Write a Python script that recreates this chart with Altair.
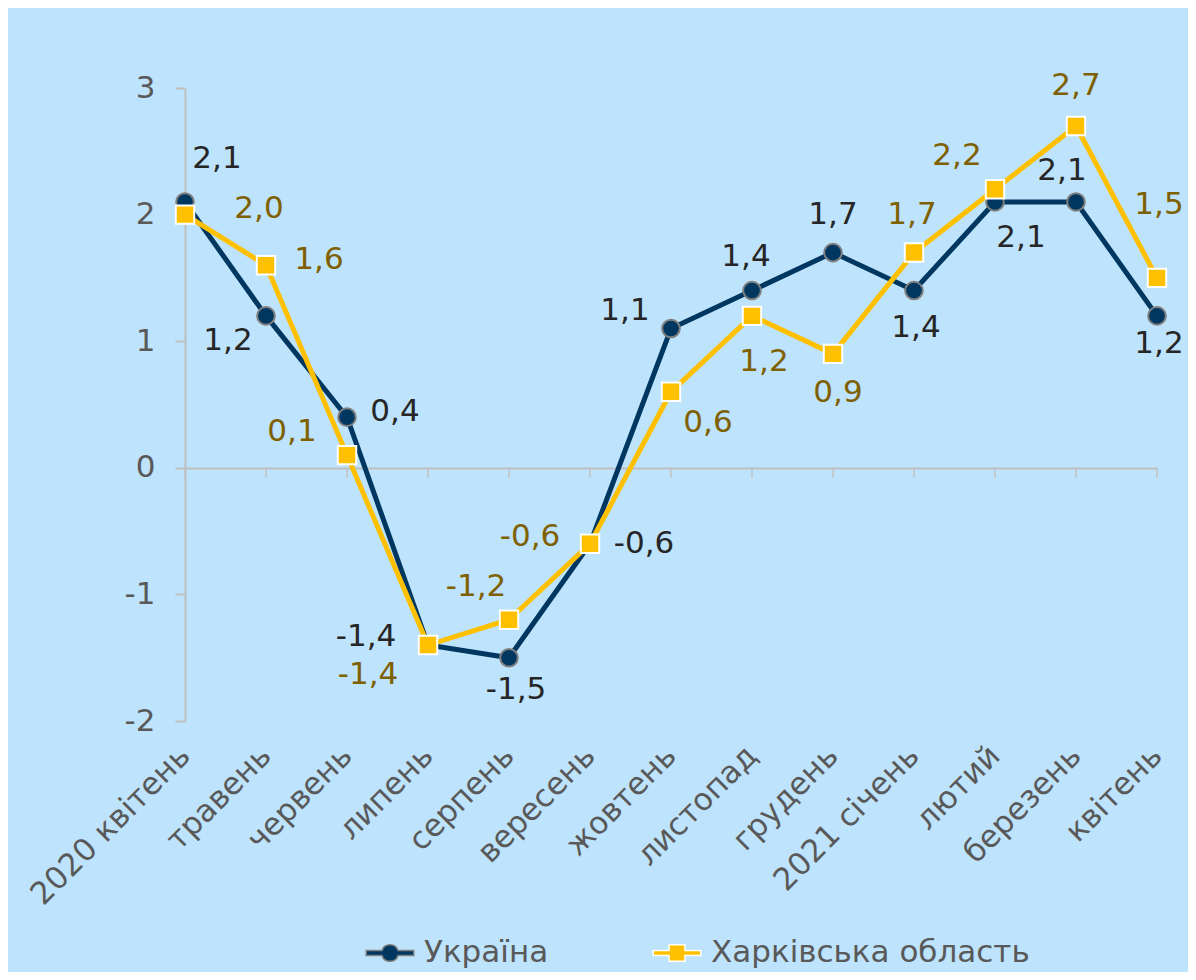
import altair as alt
import pandas as pd

months = ["2020 квітень", "травень", "червень", "липень", "серпень", "вересень",
          "жовтень", "листопад", "грудень", "2021 січень", "лютий", "березень", "квітень"]
ukraine = [2.1, 1.2, 0.4, -1.4, -1.5, -0.6, 1.1, 1.4, 1.7, 1.4, 2.1, 2.1, 1.2]
kharkiv = [2.0, 1.6, 0.1, -1.4, -1.2, -0.6, 0.6, 1.2, 0.9, 1.7, 2.2, 2.7, 1.5]
series_names = ["Україна", "Харківська область"]

# label offsets (pixels) relative to each point
ua_dx = [32, -38, 48, -62, 7, 54, -46, -6, 0, 2, 26, -14, 2]
ua_dy = [-43, 25, -5, -8, 32, 0, -18, -34, -38, 37, 36, -31, 28]
kh_dx = [74, 53, -55, -60, -33, -60, 37, 12, 5, -2, -38, 0, 2]
kh_dy = [-6, -5, -23, 30, -33, -7, 31, 46, 39, -38, -33, -40, -73]

FONT = "DejaVu Sans"
FS = 31
NAVY = "#003760"
GOLD = "#FFC000"
BG = "#BEE3FC"
GREY = "#BFBFBF"
H = 633
PX_PER_UNIT = H / 5.0

def label_text(v):
    return f"{v:.1f}".replace(".", ",")

ua = pd.DataFrame({"month": months, "value": ukraine,
                   "label": [label_text(v) for v in ukraine], "dx": ua_dx, "dy": ua_dy})
kh = pd.DataFrame({"month": months, "value": kharkiv,
                   "label": [label_text(v) for v in kharkiv], "dx": kh_dx, "dy": kh_dy})
legend_df = pd.DataFrame({"series": series_names})

x_enc = alt.X("month:N", sort=months, title=None,
              scale=alt.Scale(type="point", padding=0),
              axis=alt.Axis(labelAngle=-45, labelFont=FONT, labelFontSize=FS,
                            labelColor="#595959", domain=False, ticks=False,
                            labelPadding=30, labelLimit=0))
y_enc = alt.Y("value:Q", title=None, scale=alt.Scale(domain=[-2, 3], nice=False),
              axis=alt.Axis(values=[-2, -1, 0, 1, 2, 3], labelFont=FONT, labelFontSize=FS,
                            labelExpr="'' + datum.value",
                            labelColor="#595959", domainColor=GREY, domainWidth=2,
                            tickColor=GREY, tickWidth=2, tickSize=10, labelPadding=20,
                            grid=True,
                            gridColor=alt.condition("datum.value === 0", alt.value(GREY), alt.value("transparent")),
                            gridWidth=2))

base_ua = alt.Chart(ua).encode(x=x_enc, y=y_enc)
base_kh = alt.Chart(kh).encode(x=alt.X("month:N", sort=months), y="value:Q")

zero_ticks = alt.Chart(ua).mark_tick(orient="vertical", color=GREY, thickness=2, size=10, yOffset=5).encode(
    x=alt.X("month:N", sort=months), y=alt.datum(0))

ua_line = base_ua.mark_line(color=NAVY, strokeWidth=5)
ua_pts = base_ua.mark_point(shape="circle", filled=True, fill=NAVY, stroke="#7F7F7F",
                            strokeWidth=2, size=310, opacity=1)
kh_line = base_kh.mark_line(color=GOLD, strokeWidth=5)
kh_pts = base_kh.mark_point(shape="square", filled=True, fill=GOLD, stroke="white",
                            strokeWidth=2, size=340, opacity=1)

ua_txt = alt.Chart(ua).transform_calculate(ly=f"datum.value - datum.dy / {PX_PER_UNIT}").mark_text(
    font=FONT, fontSize=FS, color="#262626").encode(
    x=alt.X("month:N", sort=months), y="ly:Q",
    text="label:N",
    xOffset=alt.XOffset("dx:Q", scale=None))
kh_txt = alt.Chart(kh).transform_calculate(ly=f"datum.value - datum.dy / {PX_PER_UNIT}").mark_text(
    font=FONT, fontSize=FS, color="#7F6000").encode(
    x=alt.X("month:N", sort=months), y="ly:Q",
    text="label:N",
    xOffset=alt.XOffset("dx:Q", scale=None))

circle_path = ("M-1.25,-0.13 L-0.42,-0.13 A0.44,0.44 0 0,1 0.42,-0.13 L1.25,-0.13 L1.25,0.13 "
               "L0.42,0.13 A0.44,0.44 0 0,1 -0.42,0.13 L-1.25,0.13 Z")
square_path = ("M-1.25,-0.13 L-0.42,-0.13 L-0.42,-0.44 L0.42,-0.44 L0.42,-0.13 L1.25,-0.13 L1.25,0.13 "
               "L0.42,0.13 L0.42,0.44 L-0.42,0.44 L-0.42,0.13 L-1.25,0.13 Z")

leg = alt.Legend(title=None, orient="none", legendX=185, legendY=845,
                 direction="horizontal", labelFont=FONT, labelFontSize=FS, labelLimit=0,
                 labelColor="#595959", symbolSize=1444, symbolStrokeWidth=1.5,
                 labelOffset=14, columnPadding=101, symbolOpacity=1)

legend_layer = alt.Chart(legend_df).transform_filter("false").mark_point(filled=True, opacity=1).encode(
    x=alt.value(0),
    y=alt.value(0),
    fill=alt.Fill("series:N", scale=alt.Scale(domain=series_names, range=[NAVY, GOLD]), legend=leg),
    stroke=alt.Stroke("series:N", scale=alt.Scale(domain=series_names, range=["#7F7F7F", "white"]),
                      legend=None),
    shape=alt.Shape("series:N", scale=alt.Scale(domain=series_names, range=[circle_path, square_path]),
                    legend=leg),
)

chart = alt.layer(zero_ticks, ua_line, ua_pts, kh_line, kh_pts, ua_txt, kh_txt, legend_layer).properties(
    width=972, height=H,
    autosize=alt.AutoSizeParams(type="none"),
    padding={"left": 177, "top": 80, "right": 31, "bottom": 251},
    background=BG,
).configure_view(stroke=None)

chart.save("out.html", embed_options={"renderer": "svg", "actions": False})
